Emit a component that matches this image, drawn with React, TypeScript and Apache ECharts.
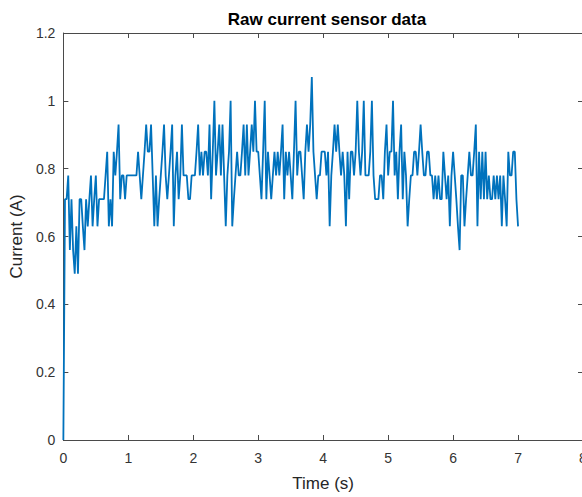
import React, { useEffect, useRef } from "react";
import * as echarts from "echarts";

const titleText = "Raw current sensor data";
const xName = "Time (s)";
const yName = "Current (A)";
const sampleStep = 0.025;

const sec0 = [0, 0.71, 0.71, 0.78, 0.56, 0.71, 0.56, 0.49, 0.63, 0.49,
  0.71, 0.71, 0.63, 0.56, 0.71, 0.63, 0.71, 0.78, 0.63, 0.71,
  0.78, 0.63, 0.71, 0.71, 0.71, 0.71, 0.78, 0.85, 0.63, 0.71,
  0.63, 0.85, 0.78, 0.85, 0.93, 0.71, 0.78, 0.78, 0.71, 0.78];
const sec1 = [0.78, 0.78, 0.78, 0.78, 0.78, 0.78, 0.85, 0.78, 0.71, 0.78,
  0.85, 0.93, 0.85, 0.85, 0.93, 0.78, 0.63, 0.78, 0.63, 0.71,
  0.78, 0.85, 0.93, 0.78, 0.71, 0.78, 0.85, 0.93, 0.63, 0.78,
  0.85, 0.71, 0.78, 0.93, 0.78, 0.78, 0.78, 0.71, 0.71, 0.78];
const sec2 = [0.78, 0.78, 0.85, 0.93, 0.78, 0.85, 0.78, 0.85, 0.85, 0.78,
  0.93, 0.71, 0.85, 1.0, 0.78, 0.85, 0.93, 0.78, 0.93, 0.78,
  0.63, 0.78, 0.85, 1.0, 0.63, 0.71, 0.78, 0.85, 0.78, 0.78,
  0.85, 0.93, 0.78, 0.93, 0.78, 0.85, 0.93, 0.85, 1.0, 0.85];
const sec3 = [0.85, 0.78, 0.71, 0.85, 1.0, 0.71, 0.85, 0.78, 0.71, 0.78,
  0.85, 0.78, 0.85, 0.78, 0.85, 0.93, 0.71, 0.85, 0.78, 0.85,
  0.78, 0.71, 0.85, 1.0, 0.78, 0.85, 0.85, 0.78, 0.71, 0.85,
  0.93, 0.85, 0.93, 1.07, 0.85, 0.78, 0.71, 0.78, 0.78, 0.85];
const sec4 = [0.85, 0.85, 0.78, 0.85, 0.63, 0.78, 0.85, 0.93, 0.85, 0.93,
  0.85, 0.78, 0.85, 0.78, 0.63, 0.85, 0.71, 0.85, 0.85, 0.78,
  0.85, 1.0, 0.85, 0.78, 0.85, 1.0, 0.78, 0.78, 0.78, 0.85,
  1.0, 0.78, 0.71, 0.71, 0.71, 0.78, 0.78, 0.71, 0.85, 0.93];
const sec5 = [0.78, 0.85, 0.85, 1.0, 0.78, 0.85, 0.71, 0.85, 0.93, 0.71,
  0.85, 0.78, 0.63, 0.71, 0.78, 0.78, 0.85, 0.85, 0.78, 0.85,
  0.93, 0.85, 0.78, 0.78, 0.85, 0.85, 0.78, 0.78, 0.71, 0.78,
  0.71, 0.78, 0.71, 0.71, 0.85, 0.78, 0.71, 0.78, 0.63, 0.78];
const sec6 = [0.85, 0.78, 0.71, 0.63, 0.56, 0.78, 0.78, 0.63, 0.71, 0.78,
  0.85, 0.78, 0.78, 0.85, 0.93, 0.63, 0.85, 0.71, 0.85, 0.71,
  0.85, 0.71, 0.78, 0.71, 0.71, 0.78, 0.71, 0.78, 0.71, 0.78,
  0.63, 0.78, 0.71, 0.63, 0.85, 0.78, 0.78, 0.85, 0.85, 0.71];
const lastSample = [0.63];

const xTicks = { min: 0, max: 8, interval: 1 };
const yTicks = { min: 0, max: 1.2, interval: 0.2 };

const current = [...sec0, ...sec1, ...sec2, ...sec3, ...sec4, ...sec5, ...sec6, ...lastSample];

export default function App() {
  const ref = useRef<HTMLDivElement>(null);
  useEffect(() => {
    if (!ref.current) return;
    const chart = echarts.init(ref.current, undefined, { renderer: "svg" });
    const data = current.map((v, i) => [+(i * sampleStep).toFixed(3), v]);
    const axisColor = "#4a4a4a";
    const font = "'Liberation Sans', Arial, Helvetica, sans-serif";
    const line = { show: true, onZero: false, lineStyle: { color: axisColor, width: 1 } };
    const tick = { show: true, inside: true, length: 5, lineStyle: { color: axisColor } };
    chart.setOption({
      animation: false,
      backgroundColor: "#ffffff",
      title: {
        text: titleText,
        left: 322,
        textAlign: "center",
        top: 6,
        textStyle: { fontFamily: font, fontSize: 17, fontWeight: "bold", color: "#000" },
      },
      grid: { left: 62, top: 33, width: 521, height: 411, containLabel: false },
      xAxis: [
        {
          type: "value",
          min: xTicks.min,
          max: xTicks.max,
          interval: xTicks.interval,
          name: xName,
          nameLocation: "middle",
          nameGap: 35,
          nameTextStyle: { fontFamily: font, fontSize: 17, color: "#262626" },
          axisLine: line,
          axisTick: tick,
          axisLabel: { fontFamily: font, fontSize: 14, color: "#333", margin: 11 },
          splitLine: { show: false },
        },
        {
          type: "value",
          position: "top",
          min: xTicks.min,
          max: xTicks.max,
          interval: xTicks.interval,
          axisLine: line,
          axisTick: tick,
          axisLabel: { show: false },
          splitLine: { show: false },
        },
      ],
      yAxis: [
        {
          type: "value",
          min: yTicks.min,
          max: yTicks.max,
          interval: yTicks.interval,
          name: yName,
          nameLocation: "middle",
          nameRotate: 90,
          nameGap: 36,
          nameTextStyle: { fontFamily: font, fontSize: 17, color: "#262626" },
          axisLine: line,
          axisTick: tick,
          axisLabel: {
            fontFamily: font,
            fontSize: 14,
            color: "#333",
            margin: 8,
            formatter: (v: number) => String(+v.toFixed(1)),
          },
          splitLine: { show: false },
        },
        {
          type: "value",
          position: "right",
          min: yTicks.min,
          max: yTicks.max,
          interval: yTicks.interval,
          axisLine: line,
          axisTick: tick,
          axisLabel: { show: false },
          splitLine: { show: false },
        },
      ],
      series: [
        {
          type: "line",
          xAxisIndex: 0,
          yAxisIndex: 0,
          data,
          showSymbol: false,
          symbol: "none",
          lineStyle: { color: "#0072BD", width: 1.8 },
          clip: true,
        },
      ],
    });
    return () => chart.dispose();
  }, []);
  return (
    <div style={{ position: "fixed", left: 0, top: 0, width: 582, height: 497, overflow: "hidden", background: "#fff" }}>
      <div ref={ref} style={{ width: 600, height: 497 }} />
    </div>
  );
}
